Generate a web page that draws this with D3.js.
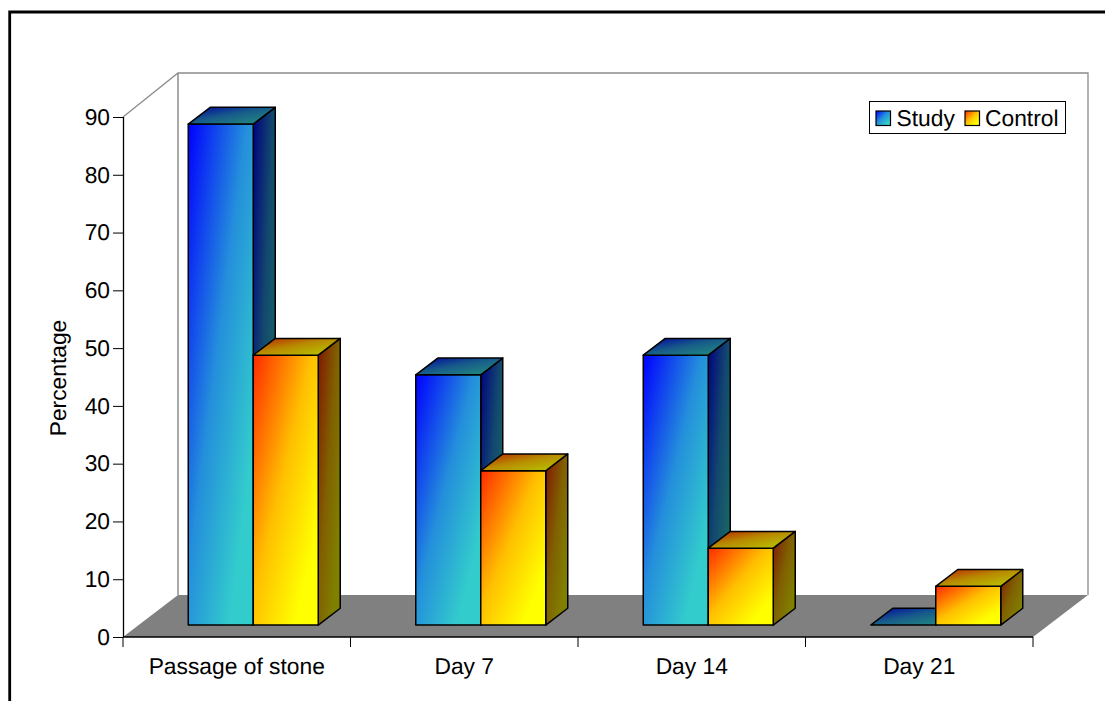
<!DOCTYPE html>
<html>
<head>
<meta charset="utf-8">
<script src="https://cdn.jsdelivr.net/npm/d3@7"></script>
<style>
html,body{margin:0;padding:0;background:#fff;overflow:hidden}
text{font-family:"Liberation Sans",Arial,sans-serif;fill:#000;text-rendering:geometricPrecision}
</style>
</head>
<body>
<svg id="chart" width="1105" height="701" style="display:block"></svg>
<script>
const categories = ["Passage of stone", "Day 7", "Day 14", "Day 21"];
const seriesNames = ["Study", "Control"];
const studyValues = [86.7, 43.3, 46.7, 0];
const controlValues = [46.7, 26.7, 13.3, 6.7];
const yTicks = [0, 10, 20, 30, 40, 50, 60, 70, 80, 90];
const axisTitle = "Percentage";

const palette = {
  Study: { start: "#0000ff", end: "#33cccc", topShade: 0.63, sideShade: 0.5 },
  Control: { start: "#ff2a00", end: "#ffff00", topShade: 0.72, sideShade: 0.5 }
};

const svg = d3.select("#chart");
const defs = svg.append("defs");
const fontSize = 22.8;

// Plot box of the front plane, and the oblique offset of the back wall.
const plotLeft = 123, plotRight = 1033, plotBottom = 637, plotTop = 117;
const wallDx = 55, wallDy = -42;

const x = d3.scaleBand().domain(categories).range([plotLeft, plotRight]);
const y = d3.scaleLinear().domain([0, 90]).range([plotBottom, plotTop]);
const inner = d3.scaleBand().domain(seriesNames).range([0, 130]);

// A bar occupies the middle of the floor's depth.
const frontDx = wallDx * 0.3, frontDy = wallDy * 0.285, barDx = wallDx * 0.4, barDy = wallDy * 0.4;

// Page frame: left and top rules only
svg.append("path")
  .attr("d", "M9.7,701V12H1105")
  .attr("fill", "none").attr("stroke", "#000").attr("stroke-width", 2.8);

// Back wall and side wall outlines
svg.append("path")
  .attr("d", `M${plotLeft},${plotTop}L${plotLeft + wallDx},${plotTop + wallDy - 2}H${plotRight + wallDx}V${plotBottom + wallDy}`)
  .attr("fill", "none").attr("stroke", "#8c8c8c").attr("stroke-width", 1.3);
svg.append("line")
  .attr("x1", plotLeft + wallDx).attr("x2", plotLeft + wallDx)
  .attr("y1", plotTop + wallDy - 2).attr("y2", plotBottom + wallDy)
  .attr("stroke", "#8c8c8c").attr("stroke-width", 1.5);

// Floor
svg.append("path")
  .attr("d", `M${plotLeft},${plotBottom}L${plotLeft + wallDx},${plotBottom + wallDy}H${plotRight + wallDx}L${plotRight},${plotBottom}Z`)
  .attr("fill", "#808080");

// The blend runs quickly at first and settles on the end colour before the far corner.
const blendStops = [[0, 0], [0.45, 0.7], [0.82, 1], [1, 1]];
function gradient(id, from, to, shade) {
  const g = defs.append("linearGradient").attr("id", id)
    .attr("x1", 0).attr("y1", 0).attr("x2", 1).attr("y2", 1);
  const mix = d3.interpolateRgb(from, to);
  blendStops.forEach(([at, amount]) => {
    const c = d3.rgb(mix(amount));
    g.append("stop").attr("offset", at)
      .attr("stop-color", d3.rgb(c.r * shade, c.g * shade, c.b * shade));
  });
}
seriesNames.forEach(name => {
  const p = palette[name];
  gradient(`${name}-front`, p.start, p.end, 1);
  gradient(`${name}-top`, p.start, p.end, p.topShade);
  gradient(`${name}-side`, p.start, p.end, p.sideShade);
});

function drawBar(cat, name, value) {
  const gap = (x.step() - 130) / 2;
  const x0 = x(cat) + frontDx + gap + inner(name);
  const w = inner.bandwidth();
  const base = y(0) + frontDy;
  const topY = base - (y(0) - y(value));
  const g = svg.append("g").attr("stroke", "#000").attr("stroke-width", 1.5).attr("stroke-linejoin", "round");
  if (value > 0) {
    g.append("path").attr("fill", `url(#${name}-side)`)
      .attr("d", `M${x0 + w},${topY}L${x0 + w + barDx},${topY + barDy}V${base + barDy}L${x0 + w},${base}Z`);
    g.append("rect").attr("x", x0).attr("y", topY).attr("width", w).attr("height", base - topY)
      .attr("fill", `url(#${name}-front)`);
  }
  g.append("path").attr("fill", `url(#${name}-top)`)
    .attr("d", `M${x0},${topY}L${x0 + barDx},${topY + barDy}H${x0 + w + barDx}L${x0 + w},${topY}Z`);
}
categories.forEach((cat, i) => {
  drawBar(cat, "Study", studyValues[i]);
  drawBar(cat, "Control", controlValues[i]);
});

// Value axis
const yAxis = svg.append("g").attr("transform", `translate(${plotLeft},0)`)
  .call(d3.axisLeft(y).tickValues(yTicks).tickSize(10).tickPadding(3).tickFormat(d3.format("d")));
yAxis.selectAll("text").attr("font-size", fontSize).style("font-family", '"Liberation Sans",Arial,sans-serif');
yAxis.select(".domain").attr("d", `M0.5,${plotTop}V${plotBottom}`).attr("stroke", "#000").attr("stroke-width", 1.3);
yAxis.selectAll(".tick line").attr("stroke", "#000").attr("stroke-width", 1);

// Category axis
const xAxisLine = svg.append("g");
xAxisLine.append("line").attr("x1", plotLeft).attr("x2", plotRight).attr("y1", plotBottom).attr("y2", plotBottom)
  .attr("stroke", "#000").attr("stroke-width", 1.3);
xAxisLine.selectAll(".sep").data(d3.range(categories.length + 1)).join("line")
  .attr("class", "sep")
  .attr("x1", i => i < categories.length ? x(categories[i]) : plotRight)
  .attr("x2", i => i < categories.length ? x(categories[i]) : plotRight)
  .attr("y1", plotBottom).attr("y2", plotBottom + 10)
  .attr("stroke", "#000").attr("stroke-width", 1);
svg.selectAll(".cat").data(categories).join("text")
  .attr("class", "cat")
  .attr("x", d => x(d) + x.step() / 2)
  .attr("y", 674)
  .attr("text-anchor", "middle").attr("font-size", fontSize)
  .text(d => d);

svg.append("text")
  .attr("transform", "translate(66,378) rotate(-90)")
  .attr("text-anchor", "middle").attr("font-size", fontSize)
  .text(axisTitle);

// Legend
const legend = svg.append("g");
legend.append("rect").attr("x", 869.5).attr("y", 101.5).attr("width", 196).attr("height", 32)
  .attr("fill", "#fff").attr("stroke", "#000").attr("stroke-width", 1);
const keyX = [876, 965], labelX = [896.5, 985];
seriesNames.forEach((name, i) => {
  legend.append("rect").attr("x", keyX[i]).attr("y", 111).attr("width", 14.5).attr("height", 14.5)
    .attr("fill", `url(#${name}-front)`).attr("stroke", "#000").attr("stroke-width", 1.2);
  legend.append("text").attr("x", labelX[i]).attr("y", 125.5).attr("font-size", fontSize).text(name);
});
</script>
</body>
</html>
